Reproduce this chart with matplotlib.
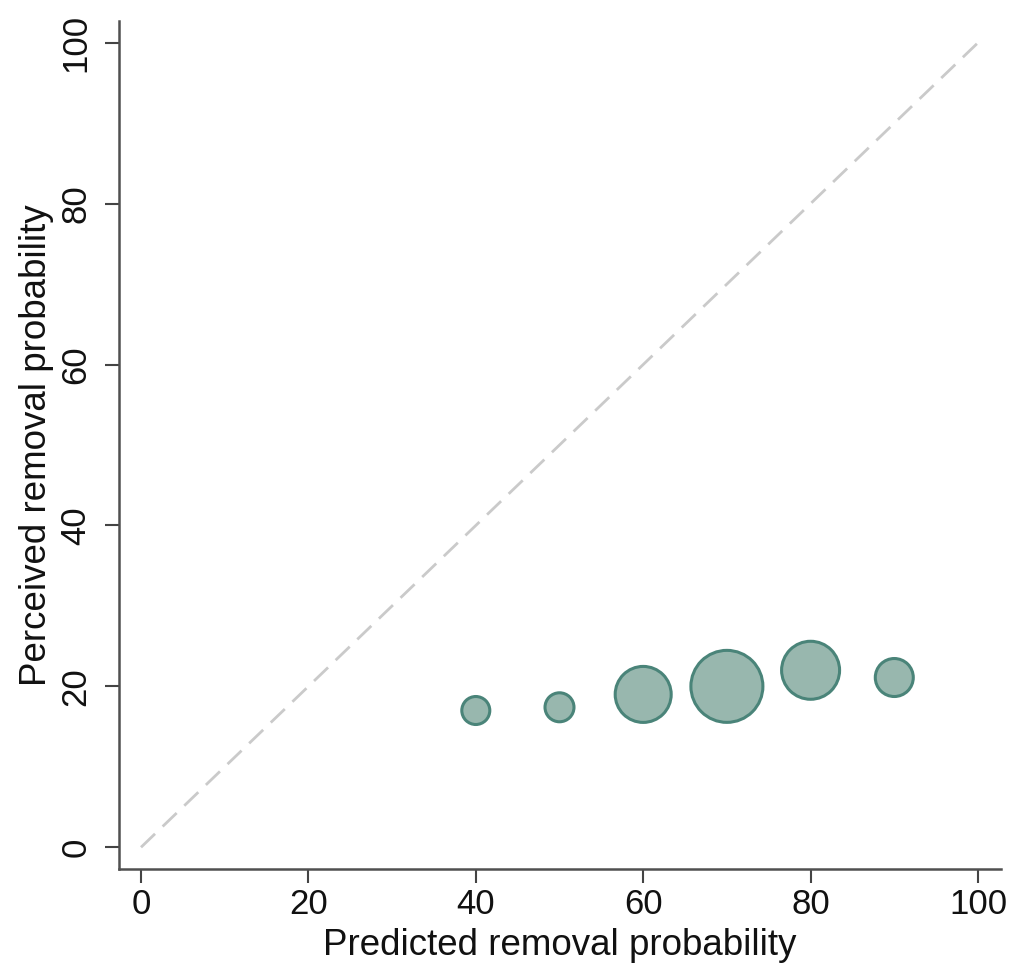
import matplotlib
matplotlib.use("Agg")
import matplotlib.pyplot as plt
import numpy as np

predicted = [40, 50, 60, 70, 80, 90]
perceived = [17.0, 17.4, 19.0, 20.0, 22.0, 21.1]
weights = [196, 210, 784, 1296, 841, 361]
ticks = [0, 20, 40, 60, 80, 100]

plt.rcParams['font.family'] = ['Liberation Sans', 'DejaVu Sans']

fig = plt.figure(figsize=(10.13, 9.66), dpi=100)
ax = fig.add_axes([119/1013, 1-869/966, (1001-119)/1013, (869-21)/966])

ax.plot([0, 100], [0, 100], color='#cacaca', lw=2.0, ls=(0, (7, 3.8)), zorder=1)

# marker size: weight ~ r_px^2 ; s = (2*r_pt)^2 with r_pt = r_px*0.72
sizes = [(2 * np.sqrt(w) * 0.72) ** 2 for w in weights]
ax.scatter(predicted, perceived, s=sizes, facecolor='#98b7ae', edgecolor='#4a8479',
           linewidths=2.2, zorder=3)

ax.set_xlim(-2.63, 102.75)
ax.set_ylim(-2.7, 102.7)
ax.set_xticks(ticks)
ax.set_yticks(ticks)
ax.set_yticklabels([str(t) for t in ticks], rotation=90, va='center')
for s in ['top', 'right']:
    ax.spines[s].set_visible(False)
for s in ['left', 'bottom']:
    ax.spines[s].set_color('#505050')
    ax.spines[s].set_linewidth(1.8)
ax.tick_params(axis='both', length=10, width=1.5, color='#444444', labelsize=25,
               labelcolor='#111111')
ax.tick_params(axis='x', pad=4)
ax.tick_params(axis='y', pad=9)
ax.set_xlabel('Predicted removal probability', fontsize=26.5, labelpad=5, color='#111111')
ax.set_ylabel('Perceived removal probability', fontsize=26.5, labelpad=4, color='#111111')

fig.savefig('out.png', dpi=100)
